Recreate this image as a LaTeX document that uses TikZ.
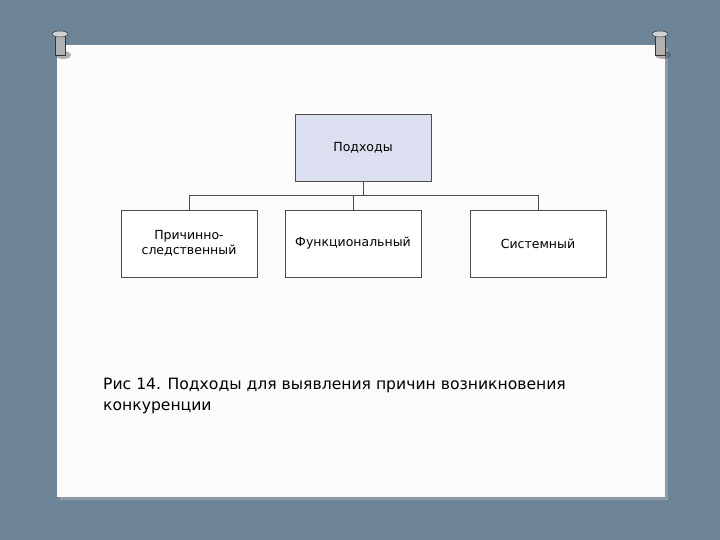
\documentclass[tikz,border=0pt]{standalone}
\usepackage{fontspec}
\setmainfont{DejaVu Sans}
\definecolor{bg}{HTML}{6E8598}
\definecolor{top}{HTML}{DCDFF0}
\begin{document}
\begin{tikzpicture}[x=1pt,y=-1pt,
  box/.style={draw=black!70,line width=0.8pt,minimum width=136pt,minimum height=67pt,align=center,font=\fontsize{12.5}{15}\selectfont,inner sep=0pt},
  wire/.style={draw=black!70,line width=0.8pt},
  pin/.style={fill=gray!60,draw=gray!40!black,line width=0.5pt}]
\useasboundingbox (0,0) rectangle (720,540);
\fill[bg] (0,0) rectangle (720,540);
\fill[black!30,opacity=0.5] (60,48) rectangle (668,500);
\fill[white!97!gray] (57,45) rectangle (665,497);
\foreach \px/\nm in {60/pl,660/pr}{
  \fill[gray!50!black,opacity=0.4] (\px+3,55) ellipse (8 and 4);
  \draw[pin] (\px-5,34) rectangle (\px+5,55);
  \draw[pin,fill=gray!35] (\px,34) ellipse (8 and 3);
  \coordinate (\nm) at (\px,45);
}
\node[box,fill=top] (p) at (363,148) {Подходы};
\node[box,fill=white] (a) at (189,243.5) {Причинно-\\следственный};
\node[box,fill=white] (b) at (353,243.5) {Функциональный};
\node[box,fill=white] (c) at (538,243.5) {Системный};
\coordinate (j) at (363,195);
\draw[wire] (p.south) -- (j);
\draw[wire] (a.north) |- (j);
\draw[wire] (c.north) |- (j);
\draw[wire] (b.north) -- (b.north |- j);
\node[anchor=north west,align=left,font=\fontsize{15.6}{21}\selectfont,inner sep=0pt] (cap) at (103,378)
 {Рис 14. Подходы для выявления причин возникновения\\конкуренции};
\end{tikzpicture}
\end{document}
